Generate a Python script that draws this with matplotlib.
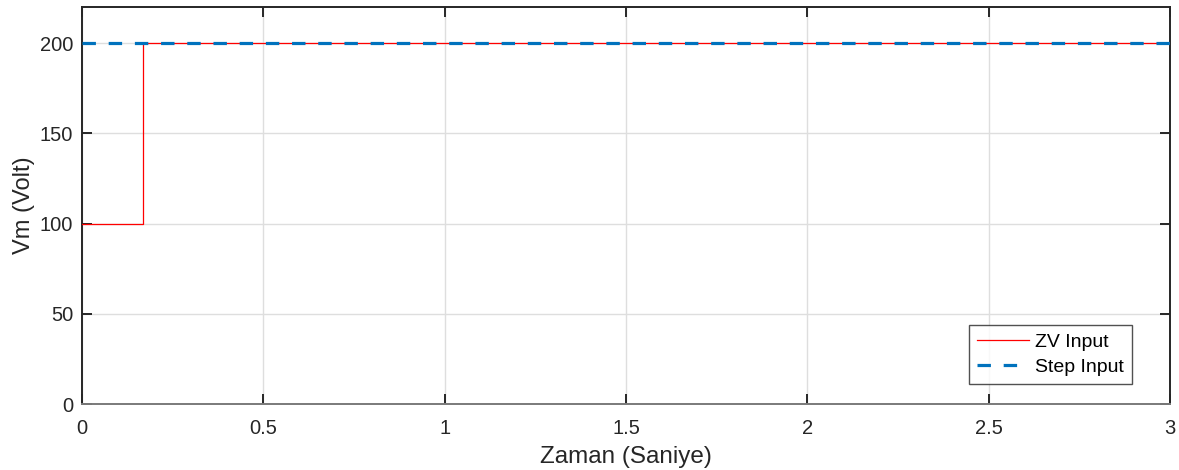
import matplotlib
matplotlib.use("Agg")
import matplotlib.pyplot as plt
import numpy as np

plt.rcParams['font.family'] = ['Liberation Sans', 'DejaVu Sans']

# data
zv_time = [0.0, 0.168, 0.168, 3.0]
zv_values = [100, 100, 200, 200]
step_time = [0.0, 3.0]
step_values = [200, 200]
xticks = [0, 0.5, 1, 1.5, 2, 2.5, 3]
xticklabels = ['0', '0.5', '1', '1.5', '2', '2.5', '3']
yticks = [0, 50, 100, 150, 200]

fig = plt.figure(figsize=(11.79, 4.70), dpi=100)
ax = fig.add_axes([0.0696, 0.1404, 0.9228, 0.8446])

ax.plot(zv_time, zv_values, color='#ff0000', lw=0.9, label='ZV Input', zorder=3)
ax.plot(step_time, step_values, color='#0072bd', lw=2.3, ls=(0, (4.2, 4.0)), label='Step Input', zorder=4)

ax.set_xlim(0, 3)
ax.set_ylim(0, 220)
ax.set_xticks(xticks)
ax.set_xticklabels(xticklabels)
ax.set_yticks(yticks)
ax.grid(True, color='#dedede', lw=1.0)
ax.set_axisbelow(True)
for s in ax.spines.values():
    s.set_color('#262626')
    s.set_linewidth(1.4)
ax.spines['bottom'].set_color('#7a7a7a')
ax.tick_params(direction='in', top=True, right=True, length=7, width=1.4,
               colors='#262626', labelsize=14.5)
ax.tick_params(axis='x', pad=10.5)
ax.tick_params(axis='y', pad=6.5)
ax.set_xlabel('Zaman (Saniye)', fontsize=17.5, color='#262626', labelpad=6)
ax.set_ylabel('Vm (Volt)', fontsize=17, color='#262626', labelpad=3)

leg = ax.legend(loc='lower right', bbox_to_anchor=(0.965, 0.0504), borderaxespad=0,
                fontsize=14, frameon=True, fancybox=False, edgecolor='#262626',
                handlelength=2.7, borderpad=0.4, labelspacing=0.4, handletextpad=0.3)
leg.get_frame().set_linewidth(1.0)

fig.savefig('out.png', dpi=100)
